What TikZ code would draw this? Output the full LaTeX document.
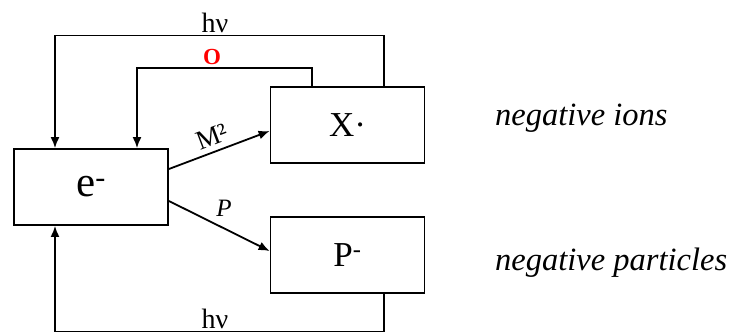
\documentclass[tikz,border=0pt]{standalone}
\usepackage{fontspec}
\setmainfont{Liberation Serif}
\usetikzlibrary{arrows.meta,calc}
\begin{document}
\begin{tikzpicture}[x=1pt,y=-1pt,
  box/.style={draw,line width=1.8pt,minimum width=154pt,minimum height=76pt,inner sep=0pt},
  arr/.style={line width=1.8pt,-{Latex[length=11pt,width=9pt]}},
  lbl/.style={inner sep=0pt}]
\useasboundingbox (0,0) rectangle (731,333);
\node[box] (e) at (91,187) {\fontsize{43}{43}\selectfont e\textsuperscript{-}};
\node[box] (X) at (347.5,125) {\fontsize{35}{35}\selectfont X·};
\node[box] (P) at (347.5,255) {\fontsize{35}{35}\selectfont P\textsuperscript{-}};
\coordinate (hvR) at (384,35.5);
\coordinate (hvL) at (55,35.5);
\coordinate (oR) at (312,68);
\coordinate (oL) at (137,68);
\coordinate (bR) at (384,331.5);
\coordinate (bL) at (55,331.5);
\draw[arr] (X.north -| hvR) -- (hvR) -- (hvL) -- (e.north -| hvL);
\draw[arr] (X.north -| oR) -- (oR) -- (oL) -- (e.north -| oL);
\draw[arr] (P.south -| bR) -- (bR) -- (bL) -- (e.south -| bL);
\node[lbl,anchor=base] (hv1) at (215,32) {\fontsize{28}{28}\selectfont hν};
\node[lbl,text=red,anchor=base] (o1) at (212,64) {\fontsize{23}{23}\selectfont\bfseries O};
\node[lbl,anchor=base] (hv2) at (215,328) {\fontsize{28}{28}\selectfont hν};
\draw[arr] ([yshift=18pt]e.east) -- node[sloped,above=5pt,pos=0.48,lbl] (m2) {\fontsize{27}{27}\selectfont M²} ([yshift=-6pt]X.west);
\draw[arr] ([yshift=-14pt]e.east) -- ([yshift=4pt]P.west);
\node[lbl] (p1) at (224,208) {\fontsize{25}{25}\selectfont\itshape P};
\node[lbl,anchor=west] (t1) at (495,118) {\fontsize{32.5}{32.5}\selectfont\itshape negative ions};
\node[lbl,anchor=west] (t2) at (495,263) {\fontsize{32.5}{32.5}\selectfont\itshape negative particles};
\end{tikzpicture}
\end{document}
